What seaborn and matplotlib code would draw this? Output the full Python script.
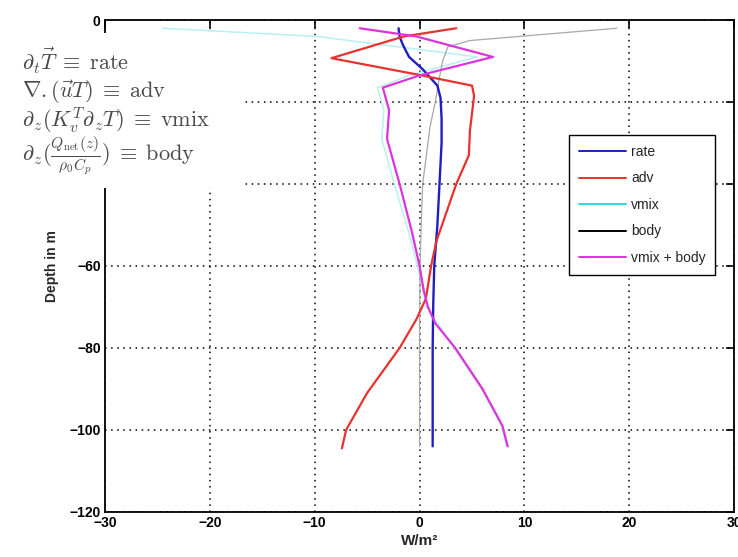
import matplotlib
matplotlib.use("Agg")
import matplotlib.pyplot as plt
from matplotlib.lines import Line2D
from matplotlib.patches import Rectangle
import pandas as pd
import seaborn as sns

# Heat-budget terms (W/m^2) against depth (m)
rate_depth = [-2, -4, -6, -9, -12, -14, -16, -19, -24, -30, -40, -50, -60, -70, -80, -90, -104]
rate_flux = [-2.0, -1.9, -1.6, -1.0, 0.3, 1.0, 1.7, 2.0, 2.1, 2.1, 1.9, 1.7, 1.4, 1.3, 1.25, 1.25, 1.25]

adv_depth = [-2, -4, -9.3, -13.4, -16, -18.5, -27, -33, -40, -54, -60, -68, -73, -80, -91, -100, -104.5]
adv_flux = [3.5, -1.5, -8.4, 0.0, 5.0, 5.2, 4.8, 4.7, 3.5, 1.6, 1.1, 0.6, -0.3, -1.9, -5.0, -7.0, -7.4]

vmix_depth = [-2, -4, -9, -13.5, -16.5, -22, -29, -40, -52, -60, -70, -80, -90, -99, -104]
vmix_flux = [-24.5, -9.8, 5.5, -1.0, -4.0, -3.4, -3.6, -2.4, -1.0, -0.2, 0.7, 3.3, 5.9, 7.8, 8.3]

body_depth = [-2, -4, -5, -6.5, -10, -14, -20, -26, -34, -40, -50, -60, -75, -90, -104]
body_flux = [18.8, 9.5, 4.8, 2.7, 2.2, 1.9, 1.5, 1.0, 0.6, 0.3, 0.15, 0.05, 0.0, 0.0, 0.0]

total_depth = [-2, -4, -9, -13.5, -16.5, -22, -29, -40, -52, -60, -66, -70, -74, -80, -90, -99, -104]
total_flux = [-5.7, -0.3, 7.0, 0.0, -3.5, -2.9, -3.1, -1.9, -0.7, 0.0, 0.4, 0.8, 1.5, 3.4, 6.0, 7.9, 8.4]

legend_labels = ["rate", "adv", "vmix", "body", "vmix + body"]
legend_colors = ["#1f1fbf", "#e8322e", "#2fd8dc", "black", "#dd33dd"]

x_ticks = [-30, -20, -10, 0, 10, 20, 30]
y_ticks = [-120, -100, -80, -60, -40, -20, 0]
# the -40 and -20 labels sit behind the definitions panel
y_tick_labels = ["\u2212120", "\u2212100", "\u221280", "\u221260", "", "", "0"]

sns.set_style("white")
plt.rcParams["font.family"] = ["Liberation Sans", "DejaVu Sans"]
plt.rcParams["mathtext.fontset"] = "cm"

fig = plt.figure(figsize=(7.38, 5.57), dpi=100)
ax = fig.add_axes([0.142, 0.081, 0.853, 0.883])

series = [
    (vmix_flux, vmix_depth, "#b8eff1", 1.1),
    (body_flux, body_depth, "#a8a8a8", 0.9),
    (rate_flux, rate_depth, "#1f1fbf", 1.7),
    (adv_flux, adv_depth, "#e8322e", 1.6),
    (total_flux, total_depth, "#dd33dd", 1.6),
]
for flux, depth, color, lw in series:
    df = pd.DataFrame({"flux": flux, "depth": depth})
    sns.lineplot(data=df, x="flux", y="depth", sort=False, estimator=None,
                 color=color, linewidth=lw, ax=ax, legend=False)

ax.set_xlim(-30, 30)
ax.set_ylim(-120, 0)
ax.set_xticks(x_ticks)
ax.set_yticks(y_ticks)
ax.set_xticklabels([f"\u2212{-t}" if t < 0 else str(t) for t in x_ticks])
ax.set_yticklabels(y_tick_labels)
ax.tick_params(direction="in", length=6, width=1.2, top=True, right=True,
               labelsize=10, pad=3, colors="black")
for lab in ax.get_xticklabels() + ax.get_yticklabels():
    lab.set_fontweight("bold")
for sp in ax.spines.values():
    sp.set_color("black")
    sp.set_linewidth(1.3)
ax.grid(True, color="black", linestyle=(0, (1, 3)), linewidth=1.1)

ax.set_xlabel("W/m\u00b2", fontsize=11, fontweight="bold")
ax.set_ylabel("Depth in m", fontsize=10, fontweight="bold")
ax.xaxis.set_label_coords(0.5, -0.045)
ax.yaxis.set_label_coords(-0.072, 0.5)

handles = [Line2D([], [], color=c, linewidth=1.4) for c in legend_colors]
leg = ax.legend(handles, legend_labels, loc="upper right", bbox_to_anchor=(0.970, 0.766),
                borderaxespad=0, fontsize=10, handlelength=3.4, labelspacing=0.9,
                borderpad=0.7, handletextpad=0.35, fancybox=False, framealpha=1,
                edgecolor="black")
leg.get_frame().set_linewidth(1.0)

# Definitions of the budget terms
fig.add_artist(Rectangle((8 / 738, 1 - 188 / 557), 237 / 738, 155 / 557,
                         transform=fig.transFigure, facecolor="white",
                         edgecolor="none", zorder=5))
formulas = [
    r"$\partial_t\vec{T} \;\equiv\; \mathrm{rate}$",
    r"$\nabla.(\vec{u}T) \;\equiv\; \mathrm{adv}$",
    r"$\partial_z(K_v^T\partial_z T) \;\equiv\; \mathrm{vmix}$",
    r"$\partial_z(\frac{Q_{\mathrm{net}}(z)}{\rho_0 C_p}) \;\equiv\; \mathrm{body}$",
]
baselines = [70, 98, 128, 161]
for f, yb in zip(formulas, baselines):
    fig.text(22 / 738, 1 - yb / 557, f, fontsize=16, color="#4a4a4a",
             va="baseline", ha="left", zorder=6)

fig.savefig("out.png", dpi=100)
